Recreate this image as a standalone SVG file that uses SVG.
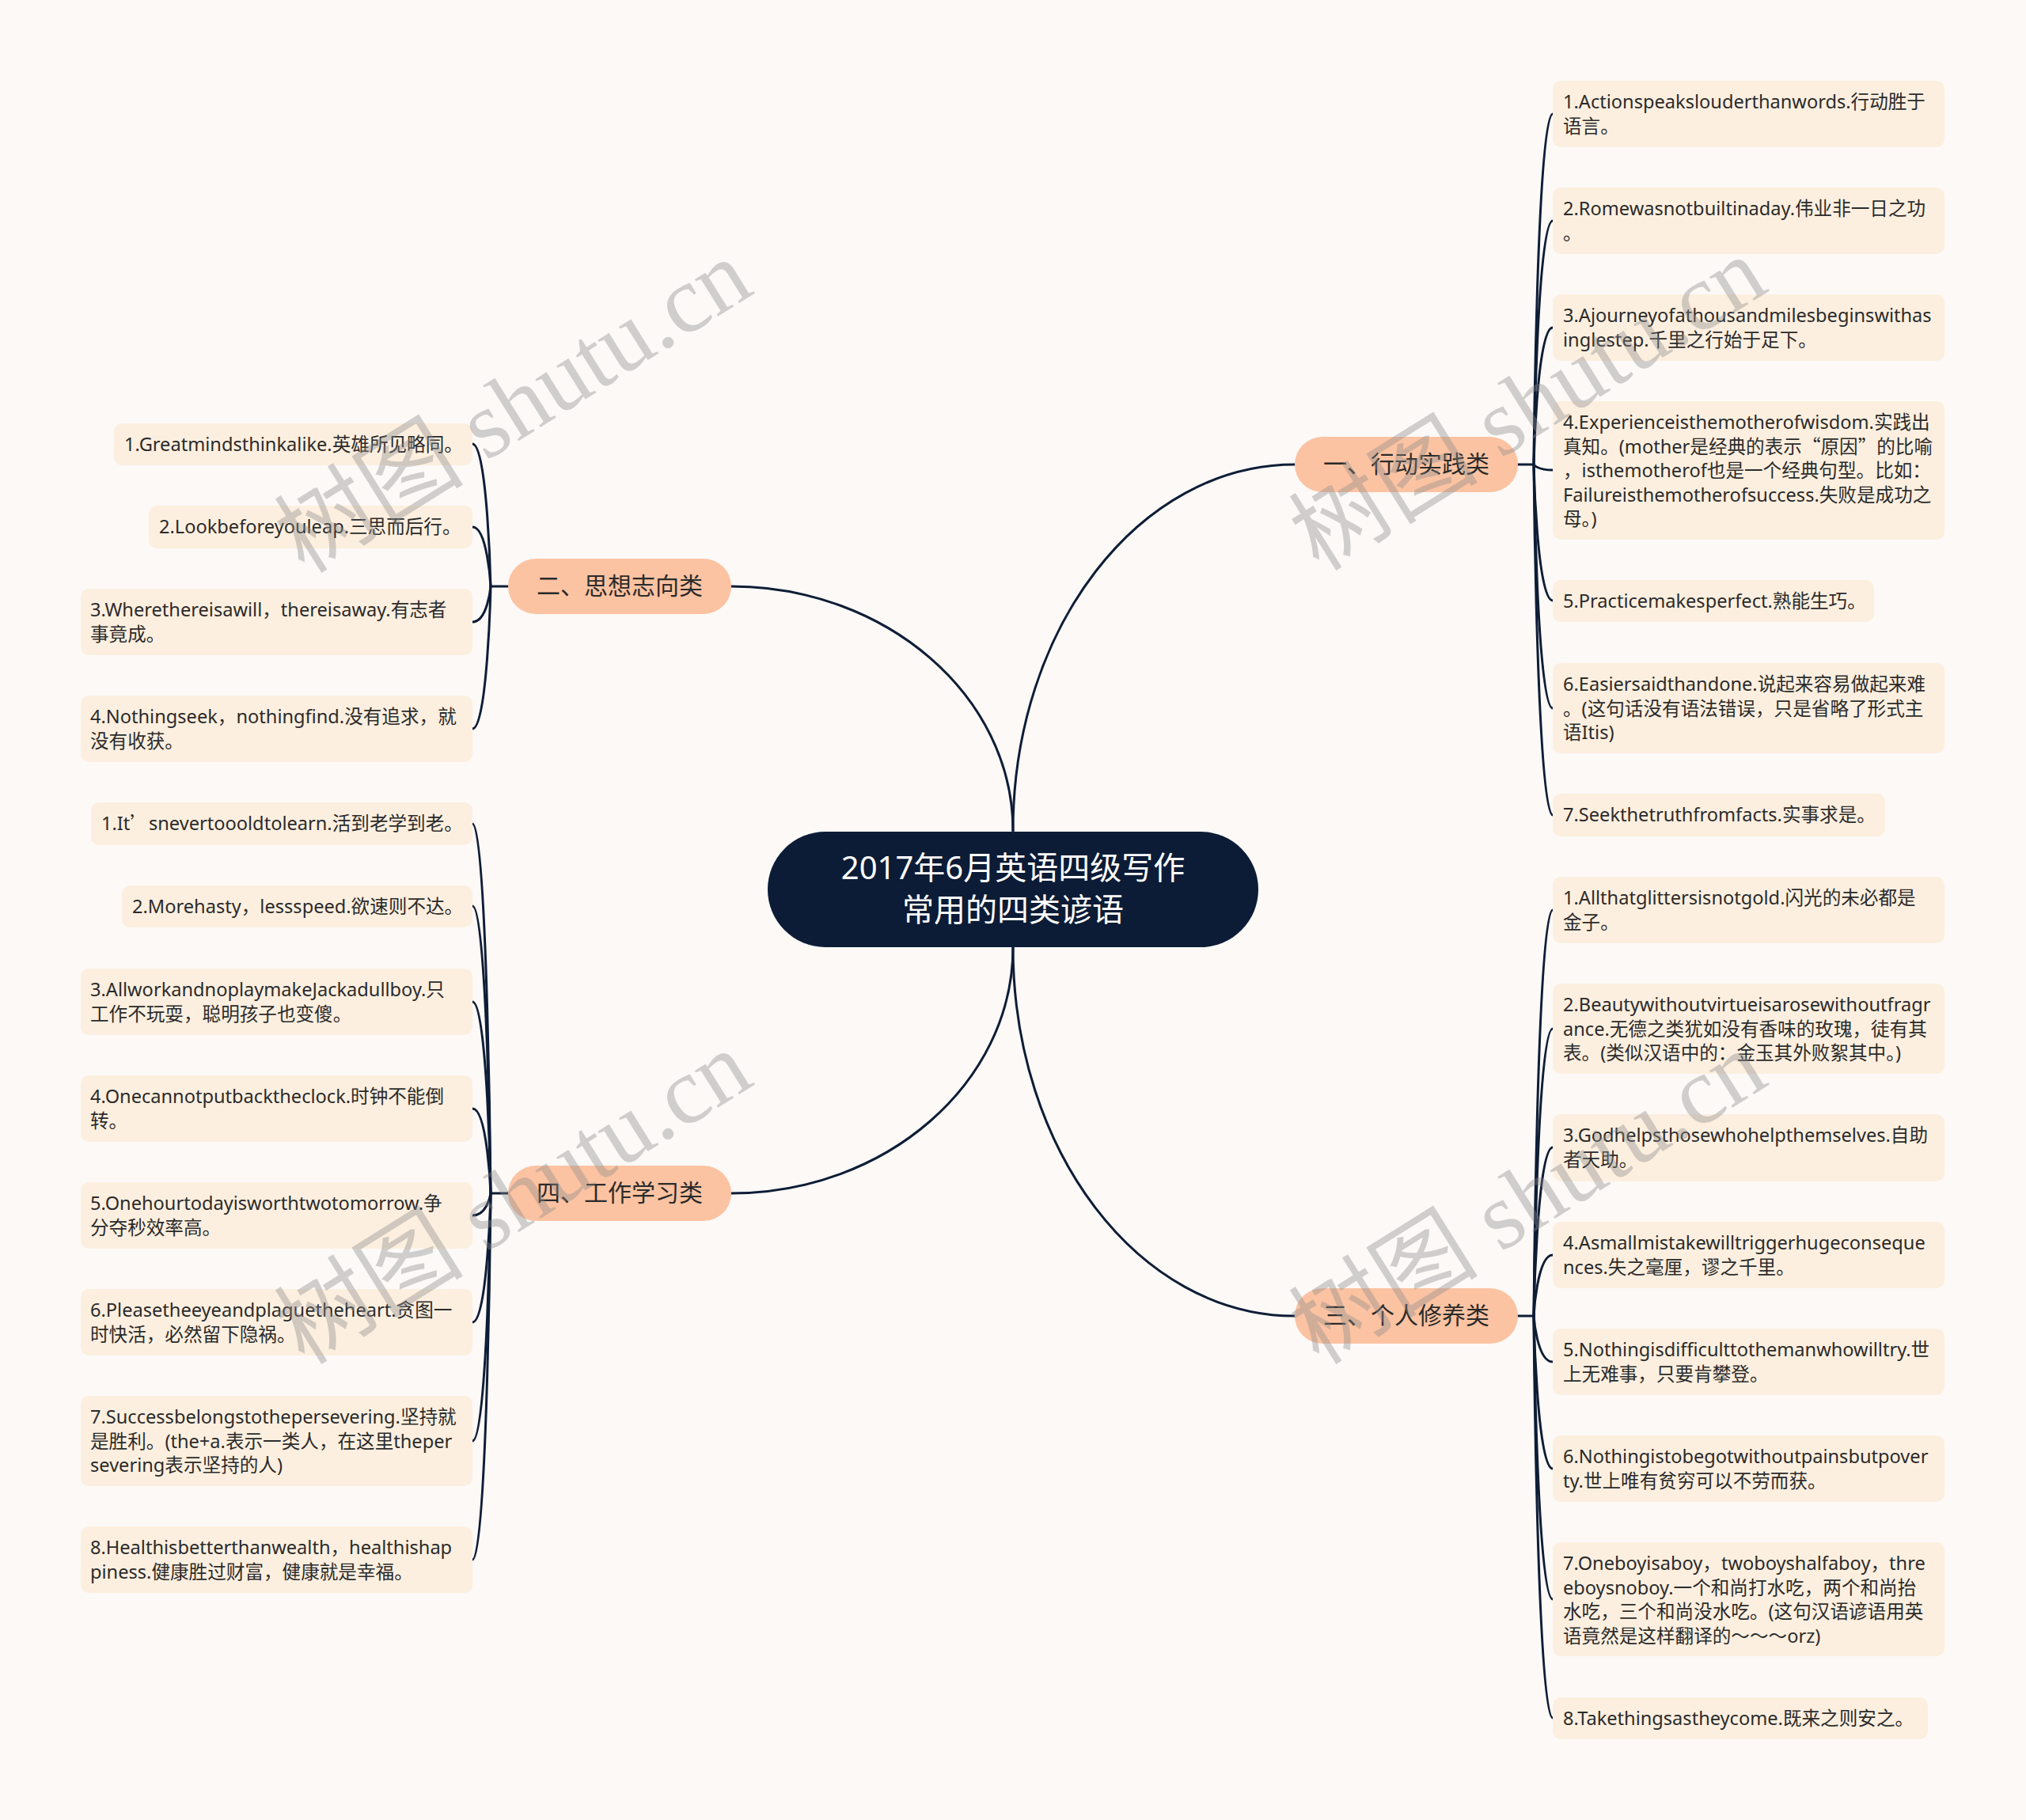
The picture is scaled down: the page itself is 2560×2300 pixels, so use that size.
<svg xmlns="http://www.w3.org/2000/svg" width="2560" height="2300" viewBox="0 0 2560 2300">
<style>
.bg{fill:#fcf9f7}
.conn path{fill:none;stroke:#0e1d36;stroke-width:3;stroke-linecap:round}
.leaf rect{fill:#fdefdf}
.leaf text{font-family:'Noto Sans','Noto Sans CJK SC',sans-serif;font-size:23.6px;fill:#2b2b2b}
.z{font-family:'Noto Sans CJK SC',sans-serif}
.l1 rect{fill:#fcc3a2}
.l1 text{font-family:'Noto Sans CJK SC',sans-serif;font-size:30px;fill:#2b2b2b;text-anchor:middle}
.root rect{fill:#0c1c36}
.root text{font-family:'Noto Sans','Noto Sans CJK SC',sans-serif;font-size:40px;fill:#ffffff;text-anchor:middle}
.wm text{font-family:'Liberation Serif','Noto Sans CJK SC',serif;font-size:120px;fill:#8a8a8a;opacity:0.38;text-anchor:middle}
</style>
<rect class="bg" x="0" y="0" width="2560" height="2300"/>

<g id="connectors" class="conn">
  <path d="M924 741 C1119 741 1280 879 1280 1050"/>
  <path d="M1636 587 C1439 587 1280 794 1280 1050"/>
  <path d="M924 1508 C1119 1508 1280 1369 1280 1197"/>
  <path d="M1636 1663 C1439 1663 1280 1454 1280 1197"/>
  <path d="M1918 587 H1938"/>
  <path d="M1938 587 C1938 587 1942 144 1962 144"/>
  <path d="M1938 587 C1938 587 1942 279 1962 279"/>
  <path d="M1938 587 C1938 587 1942 414 1962 414"/>
  <path d="M1938 587 C1938 587 1942 594 1962 594"/>
  <path d="M1938 587 C1938 587 1942 759 1962 759"/>
  <path d="M1938 587 C1938 587 1942 895 1962 895"/>
  <path d="M1938 587 C1938 587 1942 1030 1962 1030"/>
  <path d="M1918 1663 H1938"/>
  <path d="M1938 1663 C1938 1663 1942 1150 1962 1150"/>
  <path d="M1938 1663 C1938 1663 1942 1300 1962 1300"/>
  <path d="M1938 1663 C1938 1663 1942 1450 1962 1450"/>
  <path d="M1938 1663 C1938 1663 1942 1586 1962 1586"/>
  <path d="M1938 1663 C1938 1663 1942 1721 1962 1721"/>
  <path d="M1938 1663 C1938 1663 1942 1856 1962 1856"/>
  <path d="M1938 1663 C1938 1663 1942 2021 1962 2021"/>
  <path d="M1938 1663 C1938 1663 1942 2171 1962 2171"/>
  <path d="M642 741 H620"/>
  <path d="M620 741 C620 741 616 561 597 561"/>
  <path d="M620 741 C620 741 616 666 597 666"/>
  <path d="M620 741 C620 741 616 786 597 786"/>
  <path d="M620 741 C620 741 616 921 597 921"/>
  <path d="M642 1508 H620"/>
  <path d="M620 1508 C620 1508 616 1041 597 1041"/>
  <path d="M620 1508 C620 1508 616 1145 597 1145"/>
  <path d="M620 1508 C620 1508 616 1266 597 1266"/>
  <path d="M620 1508 C620 1508 616 1401 597 1401"/>
  <path d="M620 1508 C620 1508 616 1536 597 1536"/>
  <path d="M620 1508 C620 1508 616 1671 597 1671"/>
  <path d="M620 1508 C620 1508 616 1821 597 1821"/>
  <path d="M620 1508 C620 1508 616 1971 597 1971"/>
</g>

<g id="root" class="root">
  <rect x="970" y="1051" width="620" height="146" rx="73"/>
  <text x="1280" y="1111">2017年6月英语四级写作</text>
  <text x="1280" y="1164">常用的四类谚语</text>
</g>

<g id="b1" class="l1"><rect x="1636" y="552" width="282" height="70" rx="35"/><text x="1777" y="597">一、行动实践类</text></g>
<g id="b2" class="l1"><rect x="642" y="706" width="282" height="70" rx="35"/><text x="783" y="751">二、思想志向类</text></g>
<g id="b3" class="l1"><rect x="1636" y="1628" width="282" height="70" rx="35"/><text x="1777" y="1673">三、个人修养类</text></g>
<g id="b4" class="l1"><rect x="642" y="1473" width="282" height="70" rx="35"/><text x="783" y="1518">四、工作学习类</text></g>

<g id="b1-1" class="leaf"><rect x="1962" y="102" width="495" height="84" rx="10"/><text x="1975" y="137">1.Actionspeakslouderthanwords.<tspan class="z">行动胜于</tspan></text><text x="1975" y="167.5"><tspan class="z">语言。</tspan></text></g>
<g id="b1-2" class="leaf"><rect x="1962" y="237" width="495" height="84" rx="10"/><text x="1975" y="272">2.Romewasnotbuiltinaday.<tspan class="z">伟业非一日之功</tspan></text><text x="1975" y="302.5"><tspan class="z">。</tspan></text></g>
<g id="b1-3" class="leaf"><rect x="1962" y="372" width="495" height="84" rx="10"/><text x="1975" y="407">3.Ajourneyofathousandmilesbeginswithas</text><text x="1975" y="437.5">inglestep.<tspan class="z">千里之行始于足下。</tspan></text></g>
<g id="b1-4" class="leaf"><rect x="1962" y="507" width="495" height="175" rx="10"/><text x="1975" y="542">4.Experienceisthemotherofwisdom.<tspan class="z">实践出</tspan></text><text x="1975" y="572.5"><tspan class="z">真知。</tspan>(mother<tspan class="z">是经典的表示“原因”的比喻</tspan></text><text x="1975" y="603"><tspan class="z">，</tspan>isthemotherof<tspan class="z">也是一个经典句型。比如：</tspan></text><text x="1975" y="633.5">Failureisthemotherofsuccess.<tspan class="z">失败是成功之</tspan></text><text x="1975" y="664"><tspan class="z">母。</tspan>)</text></g>
<g id="b1-5" class="leaf"><rect x="1962" y="733" width="406" height="53" rx="10"/><text x="1975" y="768">5.Practicemakesperfect.<tspan class="z">熟能生巧。</tspan></text></g>
<g id="b1-6" class="leaf"><rect x="1962" y="838" width="495" height="114" rx="10"/><text x="1975" y="873">6.Easiersaidthandone.<tspan class="z">说起来容易做起来难</tspan></text><text x="1975" y="903.5"><tspan class="z">。</tspan>(<tspan class="z">这句话没有语法错误，只是省略了形式主</tspan></text><text x="1975" y="934"><tspan class="z">语</tspan>Itis)</text></g>
<g id="b1-7" class="leaf"><rect x="1962" y="1003" width="420" height="54" rx="10"/><text x="1975" y="1038">7.Seekthetruthfromfacts.<tspan class="z">实事求是。</tspan></text></g>

<g id="b3-1" class="leaf"><rect x="1962" y="1108" width="495" height="84" rx="10"/><text x="1975" y="1143">1.Allthatglittersisnotgold.<tspan class="z">闪光的未必都是</tspan></text><text x="1975" y="1173.5"><tspan class="z">金子。</tspan></text></g>
<g id="b3-2" class="leaf"><rect x="1962" y="1243" width="495" height="114" rx="10"/><text x="1975" y="1278">2.Beautywithoutvirtueisarosewithoutfragr</text><text x="1975" y="1308.5">ance.<tspan class="z">无德之类犹如没有香味的玫瑰，徒有其</tspan></text><text x="1975" y="1339"><tspan class="z">表。</tspan>(<tspan class="z">类似汉语中的：金玉其外败絮其中。</tspan>)</text></g>
<g id="b3-3" class="leaf"><rect x="1962" y="1408" width="495" height="85" rx="10"/><text x="1975" y="1443">3.Godhelpsthosewhohelpthemselves.<tspan class="z">自助</tspan></text><text x="1975" y="1473.5"><tspan class="z">者天助。</tspan></text></g>
<g id="b3-4" class="leaf"><rect x="1962" y="1544" width="495" height="84" rx="10"/><text x="1975" y="1579">4.Asmallmistakewilltriggerhugeconseque</text><text x="1975" y="1609.5">nces.<tspan class="z">失之毫厘，谬之千里。</tspan></text></g>
<g id="b3-5" class="leaf"><rect x="1962" y="1679" width="495" height="84" rx="10"/><text x="1975" y="1714">5.Nothingisdifficulttothemanwhowilltry.<tspan class="z">世</tspan></text><text x="1975" y="1744.5"><tspan class="z">上无难事，只要肯攀登。</tspan></text></g>
<g id="b3-6" class="leaf"><rect x="1962" y="1814" width="495" height="84" rx="10"/><text x="1975" y="1849">6.Nothingistobegotwithoutpainsbutpover</text><text x="1975" y="1879.5">ty.<tspan class="z">世上唯有贫穷可以不劳而获。</tspan></text></g>
<g id="b3-7" class="leaf"><rect x="1962" y="1949" width="495" height="144" rx="10"/><text x="1975" y="1984">7.Oneboyisaboy<tspan class="z">，</tspan>twoboyshalfaboy<tspan class="z">，</tspan>thre</text><text x="1975" y="2014.5">eboysnoboy.<tspan class="z">一个和尚打水吃，两个和尚抬</tspan></text><text x="1975" y="2045"><tspan class="z">水吃，三个和尚没水吃。</tspan>(<tspan class="z">这句汉语谚语用英</tspan></text><text x="1975" y="2075.5"><tspan class="z">语竟然是这样翻译的～～～</tspan>orz)</text></g>
<g id="b3-8" class="leaf"><rect x="1962" y="2145" width="474" height="53" rx="10"/><text x="1975" y="2180">8.Takethingsastheycome.<tspan class="z">既来之则安之。</tspan></text></g>

<g id="b2-1" class="leaf"><rect x="144" y="535" width="453" height="53" rx="10"/><text x="157" y="570">1.Greatmindsthinkalike.<tspan class="z">英雄所见略同。</tspan></text></g>
<g id="b2-2" class="leaf"><rect x="188" y="639" width="409" height="54" rx="10"/><text x="201" y="674">2.Lookbeforeyouleap.<tspan class="z">三思而后行。</tspan></text></g>
<g id="b2-3" class="leaf"><rect x="102" y="744" width="495" height="84" rx="10"/><text x="114" y="779">3.Wherethereisawill<tspan class="z">，</tspan>thereisaway.<tspan class="z">有志者</tspan></text><text x="114" y="809.5"><tspan class="z">事竟成。</tspan></text></g>
<g id="b2-4" class="leaf"><rect x="102" y="879" width="495" height="84" rx="10"/><text x="114" y="914">4.Nothingseek<tspan class="z">，</tspan>nothingfind.<tspan class="z">没有追求，就</tspan></text><text x="114" y="944.5"><tspan class="z">没有收获。</tspan></text></g>

<g id="b4-1" class="leaf"><rect x="115" y="1014" width="482" height="54" rx="10"/><text x="128" y="1049">1.It<tspan class="z">’</tspan>snevertoooldtolearn.<tspan class="z">活到老学到老。</tspan></text></g>
<g id="b4-2" class="leaf"><rect x="154" y="1119" width="443" height="53" rx="10"/><text x="167" y="1154">2.Morehasty<tspan class="z">，</tspan>lessspeed.<tspan class="z">欲速则不达。</tspan></text></g>
<g id="b4-3" class="leaf"><rect x="102" y="1224" width="495" height="84" rx="10"/><text x="114" y="1259">3.AllworkandnoplaymakeJackadullboy.<tspan class="z">只</tspan></text><text x="114" y="1289.5"><tspan class="z">工作不玩耍，聪明孩子也变傻。</tspan></text></g>
<g id="b4-4" class="leaf"><rect x="102" y="1359" width="495" height="84" rx="10"/><text x="114" y="1394">4.Onecannotputbacktheclock.<tspan class="z">时钟不能倒</tspan></text><text x="114" y="1424.5"><tspan class="z">转。</tspan></text></g>
<g id="b4-5" class="leaf"><rect x="102" y="1494" width="495" height="84" rx="10"/><text x="114" y="1529">5.Onehourtodayisworthtwotomorrow.<tspan class="z">争</tspan></text><text x="114" y="1559.5"><tspan class="z">分夺秒效率高。</tspan></text></g>
<g id="b4-6" class="leaf"><rect x="102" y="1629" width="495" height="84" rx="10"/><text x="114" y="1664">6.Pleasetheeyeandplaguetheheart.<tspan class="z">贪图一</tspan></text><text x="114" y="1694.5"><tspan class="z">时快活，必然留下隐祸。</tspan></text></g>
<g id="b4-7" class="leaf"><rect x="102" y="1764" width="495" height="114" rx="10"/><text x="114" y="1799">7.Successbelongstothepersevering.<tspan class="z">坚持就</tspan></text><text x="114" y="1829.5"><tspan class="z">是胜利。</tspan>(the+a.<tspan class="z">表示一类人，在这里</tspan>theper</text><text x="114" y="1860">severing<tspan class="z">表示坚持的人</tspan>)</text></g>
<g id="b4-8" class="leaf"><rect x="102" y="1929" width="495" height="84" rx="10"/><text x="114" y="1964">8.Healthisbetterthanwealth<tspan class="z">，</tspan>healthishap</text><text x="114" y="1994.5">piness.<tspan class="z">健康胜过财富，健康就是幸福。</tspan></text></g>

<g id="watermark" class="wm">
  <text transform="translate(649,514) rotate(-32)" x="0" y="40">树图 shutu.cn</text>
  <text transform="translate(1931,511) rotate(-32)" x="0" y="40">树图 shutu.cn</text>
  <text transform="translate(649,1514) rotate(-32)" x="0" y="40">树图 shutu.cn</text>
  <text transform="translate(1931,1514) rotate(-32)" x="0" y="40">树图 shutu.cn</text>
</g>
</svg>
